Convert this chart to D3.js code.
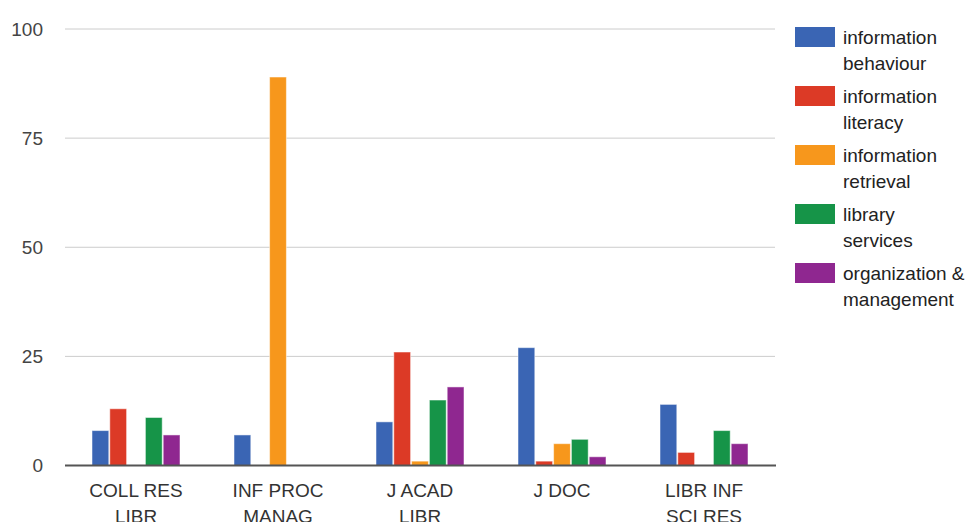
<!DOCTYPE html>
<html>
<head>
<meta charset="utf-8">
<script src="https://cdn.jsdelivr.net/npm/d3@7"></script>
<style>
  body { margin: 0; background: #fff; }
  svg text { font-family: "Liberation Sans", Arial, sans-serif; }
</style>
</head>
<body>
<div id="chart"></div>
<script>
// chart data
var journals = ["COLL RES LIBR", "INF PROC MANAG", "J ACAD LIBR", "J DOC", "LIBR INF SCI RES"];
var topics = ["information behaviour", "information literacy", "information retrieval", "library services", "organization & management"];
var behaviour = [8, 7, 10, 27, 14];
var literacy = [13, 0, 26, 1, 3];
var retrieval = [0, 89, 1, 5, 0];
var services = [11, 0, 15, 6, 8];
var management = [7, 0, 18, 2, 5];
var yTicks = [0, 25, 50, 75, 100];
var colors = ["#3a65b4", "#dc3a26", "#f7971c", "#169448", "#8f2790"];

var seriesValues = [behaviour, literacy, retrieval, services, management];

var width = 974, height = 522;
var margin = { top: 29, left: 65, right: 199, bottom: 56.5 };
var plotW = width - margin.left - margin.right,
    plotH = height - margin.top - margin.bottom;

var svg = d3.select("#chart").append("svg")
    .attr("width", width)
    .attr("height", height);

var g = svg.append("g")
    .attr("transform", "translate(" + margin.left + "," + margin.top + ")");

var x = d3.scaleBand()
    .domain(journals)
    .range([0, plotW]);

var x1 = d3.scaleBand()
    .domain(d3.range(topics.length))
    .range([0, 89]);

var y = d3.scaleLinear()
    .domain([0, 100])
    .range([plotH, 0]);

// gridlines + y labels
g.selectAll("line.grid")
    .data(yTicks)
    .enter().append("line")
    .attr("class", "grid")
    .attr("x1", 0).attr("x2", plotW)
    .attr("y1", d => y(d)).attr("y2", d => y(d))
    .attr("stroke", "#cccccc")
    .attr("stroke-width", 1);

g.selectAll("text.ytick")
    .data(yTicks)
    .enter().append("text")
    .attr("class", "ytick")
    .attr("x", -22)
    .attr("y", d => y(d))
    .attr("dy", "0.35em")
    .attr("text-anchor", "end")
    .attr("font-size", 19)
    .attr("fill", "#444")
    .text(d => d);

// bars
var groups = g.selectAll("g.journal")
    .data(journals)
    .enter().append("g")
    .attr("class", "journal")
    .attr("transform", d => "translate(" + (x(d) + (x.bandwidth() - 89) / 2) + ",0)");

groups.selectAll("rect")
    .data((d, i) => seriesValues.map((s, k) => ({ k: k, v: s[i] })))
    .enter().append("rect")
    .filter(d => d.v > 0)
    .attr("x", d => x1(d.k) + 0.5)
    .attr("width", x1.bandwidth() - 1)
    .attr("y", d => y(d.v))
    .attr("height", d => plotH - y(d.v))
    .attr("fill", d => colors[d.k])
    .attr("stroke", "#fff")
    .attr("stroke-opacity", 0.5)
    .attr("stroke-width", 1);

// baseline
g.append("line")
    .attr("x1", 0).attr("x2", plotW + 1)
    .attr("y1", y(0)).attr("y2", y(0))
    .attr("stroke", "#555")
    .attr("stroke-width", 2);

// x labels, wrapped in two lines
groups.each(function(d) {
    var words = d.split(" ");
    var lines = words.length > 2 ? [words.slice(0, 2).join(" "), words.slice(2).join(" ")] : [d];
    var t = d3.select(this).append("text")
        .attr("text-anchor", "middle")
        .attr("font-size", 19)
        .attr("fill", "#333");
    lines.forEach(function(l, i) {
        t.append("tspan")
            .attr("x", 44.5)
            .attr("y", plotH + 31 + i * 26)
            .text(l);
    });
});

// legend
var legendLines = [["information", "behaviour"], ["information", "literacy"], ["information", "retrieval"], ["library", "services"], ["organization &", "management"]];
var legend = svg.append("g").attr("transform", "translate(795,27)");
var items = legend.selectAll("g")
    .data(topics)
    .enter().append("g")
    .attr("transform", (d, i) => "translate(0," + i * 59 + ")");
items.append("rect")
    .attr("width", 40).attr("height", 20)
    .attr("fill", (d, i) => colors[i]);
items.append("text")
    .attr("font-size", 19)
    .attr("fill", "#222")
    .each(function(d, i) {
        var t = d3.select(this);
        legendLines[i].forEach(function(l, j) {
            t.append("tspan").attr("x", 48).attr("y", 17 + j * 26).text(l);
        });
    });
</script>
</body>
</html>
